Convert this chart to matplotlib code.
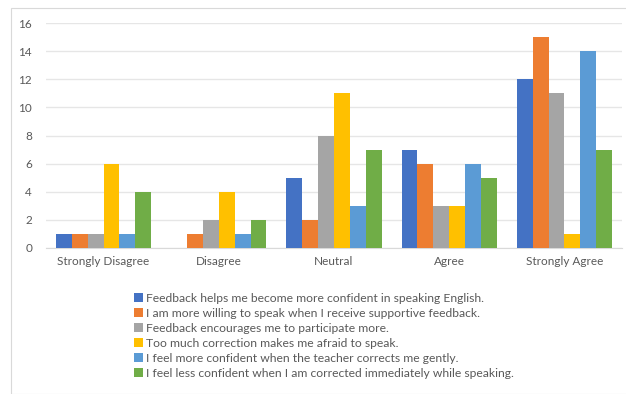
import numpy as np
import matplotlib.pyplot as plt
from matplotlib.patches import Rectangle

plt.rcParams['font.family'] = ['Lato', 'DejaVu Sans']

categories = ['Strongly Disagree', 'Disagree', 'Neutral', 'Agree', 'Strongly Agree']
series_names = [
    'Feedback helps me become more confident in speaking English.',
    'I am more willing to speak when I receive supportive feedback.',
    'Feedback encourages me to participate more.',
    'Too much correction makes me afraid to speak.',
    'I feel more confident when the teacher corrects me gently.',
    'I feel less confident when I am corrected immediately while speaking.',
]
values = [
    [1, 0, 5, 7, 12],
    [1, 1, 2, 6, 15],
    [1, 2, 8, 3, 11],
    [6, 4, 11, 3, 1],
    [1, 1, 3, 6, 14],
    [4, 2, 7, 5, 7],
]
colors = ['#4472C4', '#ED7D31', '#A5A5A5', '#FFC000', '#5B9BD5', '#70AD47']

fig = plt.figure(figsize=(6.26, 3.94), dpi=100)
# chart frame
fig.patches.append(Rectangle((11/626, 0), 1, 1 - 8/394, transform=fig.transFigure,
                             fill=False, edgecolor='#d9d9d9', linewidth=0.8))

ax = fig.add_axes([46/626, 1 - 248/394, 576/626, (248 - 23)/394])

x = np.arange(len(categories))
w = 0.138
for i, (name, vals) in enumerate(zip(series_names, values)):
    ax.bar(x + (i - 2.5) * w, vals, w, color=colors[i], label=name, zorder=3)

ax.set_xlim(-0.5, len(categories) - 0.5)
ax.set_ylim(0, 16)
ax.set_yticks(range(0, 17, 2))
ax.set_xticks(x)
ax.set_xticklabels(categories, fontsize=8.5)
ax.grid(axis='y', color='#e6e6e6', linewidth=1, zorder=0)
for s in ['top', 'right', 'left']:
    ax.spines[s].set_visible(False)
ax.spines['bottom'].set_color('#d9d9d9')
ax.tick_params(axis='both', length=0, colors='#595959')
ax.tick_params(axis='y', pad=10, labelsize=8.5)
ax.tick_params(axis='x', pad=6)

fig.legend(loc='upper left', bbox_to_anchor=(128/626, 1 - 287/394), frameon=False,
           fontsize=8.7, handlelength=0.75, handleheight=0.75, handletextpad=0.25,
           labelspacing=0.33, labelcolor='#595959', borderpad=0)

fig.savefig('out.png', dpi=100)
